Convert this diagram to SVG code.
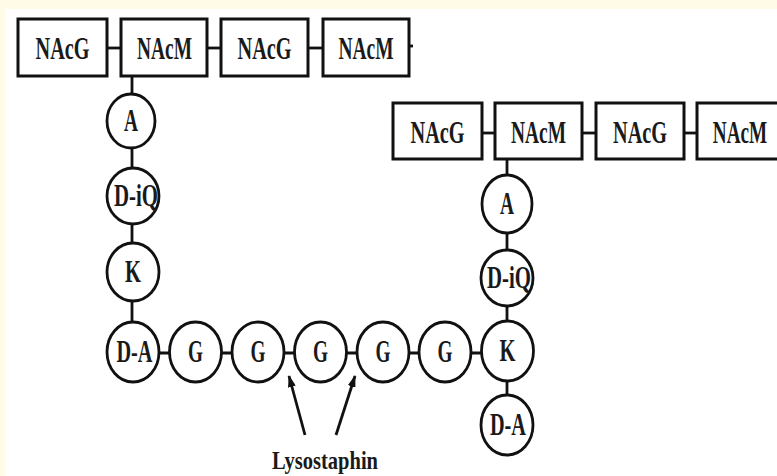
<svg xmlns="http://www.w3.org/2000/svg" width="777" height="476" viewBox="0 0 777 476">
  <defs>
    <style>
      .box { fill: #ffffff; stroke: #111111; stroke-width: 3; }
      .res { fill: #ffffff; stroke: #111111; stroke-width: 2.8; }
      .bond { stroke: #111111; stroke-width: 2.8; fill: none; }
      .lbl { font-family: "Liberation Serif", "Times New Roman", serif; font-weight: bold; font-size: 31px; fill: #1a1a1a; text-anchor: middle; }
      .cap { font-family: "Liberation Serif", "Times New Roman", serif; font-weight: bold; font-size: 26px; fill: #1a1a1a; text-anchor: middle; }
      .arrow { stroke: #111111; stroke-width: 2.8; fill: none; }
    </style>
    <marker id="head" viewBox="0 0 12 8" refX="11" refY="4" markerWidth="12" markerHeight="8" markerUnits="userSpaceOnUse" orient="auto">
      <path d="M0,0 L12,4 L0,8 Z" fill="#111111"/>
    </marker>
  </defs>

  <!-- page -->
  <rect x="0" y="0" width="777" height="476" fill="#fffbe6"/>
  <rect x="5" y="9" width="772" height="467" fill="#ffffff"/>

  <!-- bonds -->
  <g id="connectors">
    <line class="bond" x1="107" y1="48" x2="121" y2="48"/>
    <line class="bond" x1="207" y1="48" x2="221" y2="48"/>
    <line class="bond" x1="308" y1="48" x2="323" y2="48"/>
    <line class="bond" x1="409" y1="46" x2="413" y2="46"/>
    <line class="bond" x1="482" y1="133" x2="495" y2="133"/>
    <line class="bond" x1="582" y1="133" x2="596" y2="133"/>
    <line class="bond" x1="684" y1="133" x2="697" y2="133"/>
    <line class="bond" x1="132" y1="76" x2="132" y2="340"/>
    <line class="bond" x1="133" y1="353" x2="507" y2="353"/>
    <line class="bond" x1="507" y1="159" x2="507" y2="410"/>
    <line class="arrow" x1="305" y1="435" x2="289" y2="376" marker-end="url(#head)"/>
    <line class="arrow" x1="336" y1="435" x2="355" y2="376" marker-end="url(#head)"/>
  </g>

  <!-- upper glycan strand -->
  <g id="g1-nacg"><rect class="box" x="18" y="19" width="89" height="57"/><text class="lbl" x="62.5" y="58.5" textLength="54" lengthAdjust="spacingAndGlyphs">NAcG</text></g>
  <g id="g1-nacm"><rect class="box" x="121" y="19" width="86" height="57"/><text class="lbl" x="164.5" y="58.5" textLength="55" lengthAdjust="spacingAndGlyphs">NAcM</text></g>
  <g id="g2-nacg"><rect class="box" x="221" y="19" width="87" height="57"/><text class="lbl" x="264.5" y="58.5" textLength="54" lengthAdjust="spacingAndGlyphs">NAcG</text></g>
  <g id="g2-nacm"><rect class="box" x="323" y="19" width="86" height="57"/><text class="lbl" x="366" y="58.5" textLength="55" lengthAdjust="spacingAndGlyphs">NAcM</text></g>

  <!-- lower glycan strand -->
  <g id="g3-nacg"><rect class="box" x="393" y="103" width="89" height="56"/><text class="lbl" x="437.5" y="142.5" textLength="54" lengthAdjust="spacingAndGlyphs">NAcG</text></g>
  <g id="g3-nacm"><rect class="box" x="495" y="103" width="87" height="56"/><text class="lbl" x="538.5" y="142.5" textLength="55" lengthAdjust="spacingAndGlyphs">NAcM</text></g>
  <g id="g4-nacg"><rect class="box" x="596" y="103" width="88" height="56"/><text class="lbl" x="640" y="142.5" textLength="54" lengthAdjust="spacingAndGlyphs">NAcG</text></g>
  <g id="g4-nacm"><rect class="box" x="697" y="103" width="95" height="56"/><text class="lbl" transform="translate(740 142.5) scale(0.62 1)" x="0" y="0">NAcM</text></g>

  <!-- left stem peptide -->
  <g id="l-a"><ellipse class="res" cx="131" cy="121" rx="24" ry="27"/><text class="lbl" x="131" y="131" textLength="14" lengthAdjust="spacingAndGlyphs">A</text></g>
  <g id="l-diq"><ellipse class="res" cx="133" cy="196" rx="26" ry="28"/><text class="lbl" x="136" y="206" textLength="44" lengthAdjust="spacingAndGlyphs">D-iQ</text></g>
  <g id="l-k"><ellipse class="res" cx="133" cy="272" rx="26" ry="29"/><text class="lbl" x="133" y="282" textLength="16" lengthAdjust="spacingAndGlyphs">K</text></g>
  <g id="l-da"><ellipse class="res" cx="133" cy="352" rx="26" ry="30"/><text class="lbl" x="134.5" y="362" textLength="36" lengthAdjust="spacingAndGlyphs">D-A</text></g>

  <!-- pentaglycine bridge -->
  <g id="gly1"><ellipse class="res" cx="195.5" cy="352" rx="26" ry="30"/><text class="lbl" x="195.5" y="362" textLength="15" lengthAdjust="spacingAndGlyphs">G</text></g>
  <g id="gly2"><ellipse class="res" cx="258" cy="352" rx="26" ry="30"/><text class="lbl" x="258" y="362" textLength="15" lengthAdjust="spacingAndGlyphs">G</text></g>
  <g id="gly3"><ellipse class="res" cx="320.5" cy="352" rx="26" ry="30"/><text class="lbl" x="320.5" y="362" textLength="15" lengthAdjust="spacingAndGlyphs">G</text></g>
  <g id="gly4"><ellipse class="res" cx="383" cy="352" rx="26" ry="30"/><text class="lbl" x="383" y="362" textLength="15" lengthAdjust="spacingAndGlyphs">G</text></g>
  <g id="gly5"><ellipse class="res" cx="445" cy="352" rx="26" ry="30"/><text class="lbl" x="445" y="362" textLength="15" lengthAdjust="spacingAndGlyphs">G</text></g>

  <!-- right stem peptide -->
  <g id="r-a"><ellipse class="res" cx="507" cy="204" rx="25" ry="29"/><text class="lbl" x="507" y="214" textLength="14" lengthAdjust="spacingAndGlyphs">A</text></g>
  <g id="r-diq"><ellipse class="res" cx="507" cy="278" rx="26" ry="28"/><text class="lbl" x="509" y="288" textLength="44" lengthAdjust="spacingAndGlyphs">D-iQ</text></g>
  <g id="r-k"><ellipse class="res" cx="507.5" cy="351" rx="26" ry="30"/><text class="lbl" x="507.5" y="361" textLength="16" lengthAdjust="spacingAndGlyphs">K</text></g>
  <g id="r-da"><ellipse class="res" cx="507" cy="425" rx="26" ry="30"/><text class="lbl" x="508" y="435" textLength="36" lengthAdjust="spacingAndGlyphs">D-A</text></g>

  <!-- enzyme label -->
  <g id="lysostaphin"><text class="cap" x="325" y="469" textLength="106" lengthAdjust="spacingAndGlyphs">Lysostaphin</text></g>
</svg>
